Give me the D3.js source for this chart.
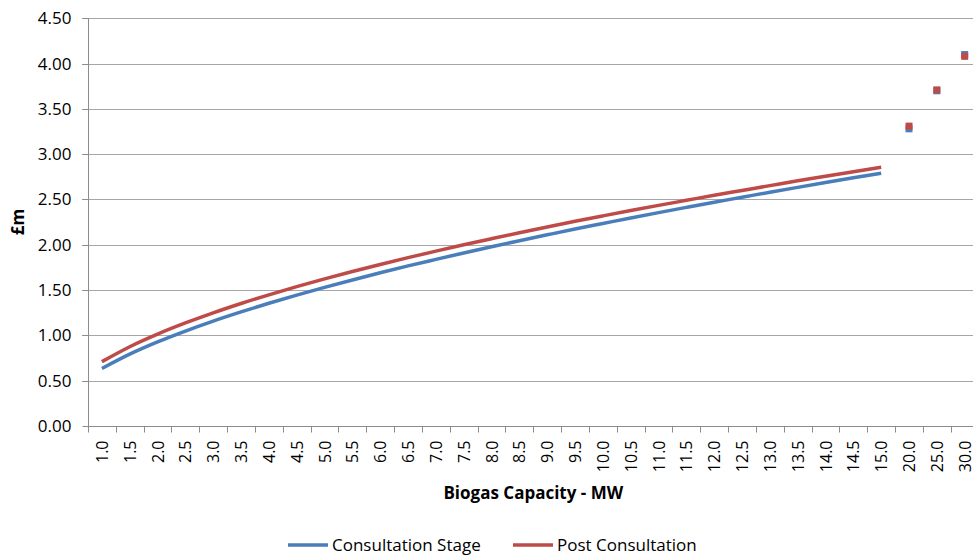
<!DOCTYPE html>
<html>
<head>
<meta charset="utf-8">
<script src="https://cdn.jsdelivr.net/npm/d3@7"></script>
<style>
  html, body { margin: 0; padding: 0; background: #fff; }
  svg { display: block; }
  text { font-family: "Open Sans", "Noto Sans", sans-serif; fill: #000; }
</style>
</head>
<body>
<svg id="chart" width="973" height="558"></svg>
<script>
// ---- data ----
const categories = ["1.0","1.5","2.0","2.5","3.0","3.5","4.0","4.5","5.0","5.5","6.0","6.5","7.0","7.5","8.0","8.5","9.0","9.5","10.0","10.5","11.0","11.5","12.0","12.5","13.0","13.5","14.0","14.5","15.0","20.0","25.0","30.0"];
const lineCategoryCount = 29; // 1.0 .. 15.0 drawn as lines, the rest as markers
const consultationStage = [0.635,0.793,0.928,1.048,1.158,1.259,1.355,1.445,1.530,1.612,1.691,1.767,1.839,1.910,1.979,2.045,2.110,2.174,2.235,2.296,2.355,2.413,2.470,2.525,2.580,2.634,2.687,2.739,2.790,3.28,3.70,4.10];
const postConsultation = [0.710,0.875,1.014,1.137,1.249,1.352,1.448,1.538,1.624,1.705,1.783,1.858,1.930,2.000,2.067,2.133,2.197,2.259,2.319,2.378,2.435,2.491,2.547,2.600,2.653,2.706,2.757,2.807,2.855,3.31,3.71,4.08];
const yTicks = [0,0.5,1,1.5,2,2.5,3,3.5,4,4.5];
const seriesNames = ["Consultation Stage","Post Consultation"];
const seriesColors = ["#4A7EBB","#BE4B48"];
const xTitle = "Biogas Capacity - MW";
const yTitle = "£m";

// ---- layout ----
const svg = d3.select("#chart");
const pLeft = 88, pRight = 978.6, pTop = 18.3, pBottom = 426;

const x = d3.scaleBand().domain(categories).range([pLeft, pRight]).padding(0);
const y = d3.scaleLinear().domain([0, 4.5]).range([pBottom, pTop]);

// gridlines
svg.append("g").selectAll("line").data(yTicks.filter(t => t > 0)).join("line")
  .attr("x1", pLeft - 6).attr("x2", 973)
  .attr("y1", d => Math.round(y(d)) + 0.5).attr("y2", d => Math.round(y(d)) + 0.5)
  .attr("stroke", "#a6a6a6").attr("stroke-width", 1);

// y axis
const yAxis = d3.axisLeft(y).tickValues(yTicks).tickFormat(d3.format(".2f")).tickSize(6).tickPadding(11);
const gy = svg.append("g").attr("transform", `translate(${pLeft + 0.5},0)`).call(yAxis);
gy.select(".domain").attr("stroke", "#8c8c8c").attr("d", `M0,${pTop}V${pBottom}`);
gy.selectAll(".tick line").attr("stroke", "#8c8c8c");
gy.selectAll(".tick text").attr("font-size", 17).attr("font-family", "'Open Sans', sans-serif").attr("fill", "#000");
gy.selectAll(".tick").attr("transform", d => `translate(0,${Math.round(y(d)) + 0.5})`);

// x axis (ticks between categories)
const gx = svg.append("g").attr("transform", `translate(0,${pBottom + 0.5})`);
gx.append("line").attr("x1", pLeft).attr("x2", 973).attr("stroke", "#8c8c8c");
const boundaries = categories.map(c => x(c)).concat([pRight]);
gx.selectAll("line.tk").data(boundaries).join("line").attr("class", "tk")
  .attr("x1", d => Math.round(d) + 0.5).attr("x2", d => Math.round(d) + 0.5)
  .attr("y1", 0).attr("y2", 6).attr("stroke", "#8c8c8c");
gx.selectAll("text").data(categories).join("text")
  .attr("transform", d => `translate(${x(d) + x.bandwidth() / 2 + 6},${14}) rotate(-90)`)
  .attr("text-anchor", "end")
  .attr("font-size", 16)
  .text(d => d);

// axis titles
svg.append("text").attr("x", (pLeft + pRight) / 2).attr("y", 499)
  .attr("text-anchor", "middle").attr("font-size", 17).attr("font-weight", "bold").text(xTitle);
svg.append("text").attr("transform", `translate(24,222) rotate(-90)`)
  .attr("text-anchor", "middle").attr("font-size", 17).attr("font-weight", "bold").text(yTitle);

// series
const series = [consultationStage, postConsultation];
const cx = c => x(c) + x.bandwidth() / 2;
series.forEach((vals, si) => {
  const pts = categories.map((c, i) => ({c, v: vals[i], i}));
  const line = d3.line().x(d => cx(d.c)).y(d => y(d.v)).curve(d3.curveMonotoneX);
  svg.append("path").datum(pts.filter(d => d.i < lineCategoryCount))
    .attr("d", line).attr("fill", "none")
    .attr("stroke", seriesColors[si]).attr("stroke-width", 3.5)
    .attr("stroke-linejoin", "round").attr("stroke-linecap", "butt");
});
series.forEach((vals, si) => {
  const pts = categories.map((c, i) => ({c, v: vals[i], i})).filter(d => d.i >= lineCategoryCount);
  svg.append("g").selectAll("rect").data(pts).join("rect")
    .attr("x", d => cx(d.c) - 3.5).attr("y", d => y(d.v) - 3.5)
    .attr("width", 7).attr("height", 7).attr("fill", seriesColors[si]);
});

// legend
const legend = svg.append("g");
const legendItems = [{x: 288, name: seriesNames[0], color: seriesColors[0]}, {x: 513, name: seriesNames[1], color: seriesColors[1]}];
legendItems.forEach(it => {
  legend.append("line").attr("x1", it.x).attr("x2", it.x + 40).attr("y1", 545).attr("y2", 545)
    .attr("stroke", it.color).attr("stroke-width", 3.5);
  legend.append("text").attr("x", it.x + 44).attr("y", 551).attr("font-size", 17).text(it.name);
});
</script>
</body>
</html>
